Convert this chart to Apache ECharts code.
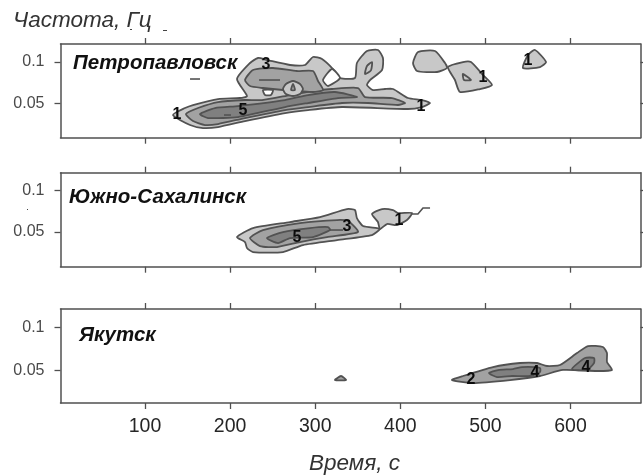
<!DOCTYPE html>
<html><head><meta charset="utf-8">
<style>html,body{margin:0;padding:0;background:#fff}#c{width:643px;height:475px;filter:blur(0.45px)}</style>
<script src="https://cdn.jsdelivr.net/npm/echarts@6/dist/echarts.min.js"></script>
</head><body><div id="c"></div>
<script>
const stations = ['Петропавловск', 'Южно-Сахалинск', 'Якутск'];
const xTicks = [100, 200, 300, 400, 500, 600];
const yTicks = [0.05, 0.1];
const xRange = [0.7, 682.2];
const yRanges = [[0.0092, 0.1216], [0.0084, 0.1212], [0.012, 0.1213]];

// contour polygons: [time, frequency]
const petroOuter = [[132.9,.0364],[147,.0448],[156.4,.0484],[185.8,.0556],[211.6,.0568],[219.8,.0592],[208.1,.0796],[223.4,.0988],[232.8,.1048],[243.3,.1024],[270.4,.0964],[288,.0964],[297.4,.106],[308,.1036],[320.9,.0916],[329.1,.0808],[346.7,.0808],[349,.0988],[360.8,.1132],[373.8,.1144],[379.6,.1048],[378.5,.0904],[364.4,.0784],[360.8,.0724],[367.9,.0664],[382,.0676],[391.4,.0676],[409,.0568],[425.5,.0544],[434.9,.0508],[425.5,.046],[409,.0436],[331.5,.046],[291.5,.0424],[264.5,.0388],[217.5,.0292],[185.8,.022],[168.1,.0208],[152.9,.0244]];
const petroNotch = [[319.7,.0916],[309.1,.0784],[315,.0712],[329.1,.0808]];
const petroBand2 = [[148.1,.0376],[162.3,.0448],[185.8,.052],[217.5,.0544],[237.5,.0544],[270.4,.0604],[297.4,.0652],[319.7,.0676],[350.3,.0688],[358.5,.058],[390.2,.0568],[405.5,.0508],[397.2,.0484],[362,.0508],[331.5,.0508],[291.5,.046],[264.5,.0424],[217.5,.0328],[185.8,.0256],[170.5,.0244],[156.4,.0292]];
const petroBlob2 = [[217.5,.0784],[226.9,.0904],[250.4,.0928],[278.6,.0892],[297.4,.0892],[303.3,.0772],[309.1,.0664],[297.4,.064],[262.1,.0664],[238.6,.0688],[223.4,.0712]];
const petroEllipse = [[262.1,.0676],[265.6,.0736],[273.9,.0772],[282.1,.0736],[285.6,.0676],[282.1,.0616],[273.9,.0592],[265.6,.0616]];
const petroDrop = [[273.9,.0736],[276.2,.0664],[271.6,.0664]];
const petroHole = [[238.6,.0664],[250.4,.0664],[248,.0604],[241,.0604]];
const petroBand3 = [[164.6,.0376],[182.2,.0448],[209.3,.0472],[264.5,.0544],[291.5,.0604],[323.2,.064],[349.1,.058],[326.8,.0568],[291.5,.0508],[264.5,.046],[209.3,.034],[174,.0328]];
const petroDiamond = [[358.5,.0856],[360.8,.0952],[366.7,.1],[365.5,.09]];
const petroIslandA = [[414.9,.0988],[420.8,.112],[440.7,.1132],[452.5,.0988],[454.8,.0928],[443.1,.088],[419.6,.0892]];
const petroIslandB = [[456,.094],[473.6,.1],[483,.1],[497.1,.0844],[507.7,.0724],[493.6,.0676],[470.1,.064],[464.2,.0784]];
const petroTriangle = [[473.6,.0856],[483,.0784],[474.8,.0784]];
const petroIslandC = [[544.1,.0928],[550,.1084],[558.2,.1144],[571.2,.1],[564.1,.094]];

const sakhOuter = [[208.1,.044],[226.9,.0548],[270.4,.062],[305.6,.068],[337.3,.0776],[346.7,.0764],[349,.0668],[356.1,.0572],[372.6,.0548],[376.1,.0536],[366.7,.0464],[325.6,.0404],[285.6,.0344],[262.1,.026],[226.9,.026],[219.8,.0308],[217.5,.038]];
const sakhBlob = [[366.7,.0716],[378.5,.0776],[391.4,.0764],[397.2,.0728],[413.7,.0728],[407.8,.0644],[396.1,.0584],[384.3,.0596],[376.1,.0536],[373.7,.062]];
const sakhLevel2 = [[223.4,.0428],[238.6,.0524],[282.1,.0608],[325.6,.0644],[338.5,.0632],[350.3,.05],[313.8,.044],[282.1,.038],[255.1,.032],[235.1,.0332]];
const sakhLevel3 = [[243.3,.0428],[262.1,.05],[293.9,.0548],[315,.056],[317.4,.0524],[297.4,.044],[270.4,.0428],[256.3,.0368]];

const yakOuter = [[460.7,.0387],[473.6,.0434],[508.9,.0538],[540.6,.0585],[560.6,.0585],[572.3,.055],[587.6,.0562],[607.6,.0701],[620.5,.0782],[638.1,.0771],[642.8,.0701],[642.8,.0597],[648.7,.0504],[631.1,.0492],[591.1,.0504],[564.1,.0434],[528.9,.0387],[485.4,.0352]];
const yakInnerA = [[504.2,.0468],[514.8,.0503],[532.4,.0515],[543,.0538],[564.1,.0527],[564.1,.048],[552.4,.0434],[531.2,.0434],[513.6,.0422]];
const yakInnerB = [[601.7,.0515],[617,.0643],[627.6,.0643],[627.6,.0585],[619.3,.0503]];
const yakSmall = [[323.2,.0387],[330.3,.0434],[336.2,.0387]];

// open contour lines
const petroLines = [[[152.9,.0796],[164.6,.0796]],[[234,.0784],[258.6,.0784]],[[192.8,.0364],[201,.0364]]];
const sakhLines = [[[413.7,.0716],[420.7,.0716],[426.6,.0788],[434.9,.0788]],[[317.4,.0524],[332.6,.0524]]];

// contour level labels: [time, frequency, text]
const petroLabels = [[137.6,.0364,'1'],[242.2,.0964,'3'],[215.1,.0412,'5'],[424.3,.046,'1'],[497.1,.0808,'1'],[550,.1012,'1']];
const sakhLabels = [[337.3,.056,'3'],[278.6,.0428,'5'],[398.4,.0632,'1']];
const yakLabels = [[483,.0387,'2'],[558.2,.0469,'4'],[618.1,.0527,'4']];

const L1 = '#c8c8c8', L2 = '#a2a2a2', L3 = '#808080', W = '#ffffff';
const panels = [
  { polys: [[petroOuter,L1],[petroNotch,W],[petroBand2,L2],[petroBlob2,L2],[petroEllipse,L1],[petroDrop,L2],[petroHole,W],[petroBand3,L3],[petroDiamond,L1],[petroIslandA,L1],[petroIslandB,L1],[petroTriangle,L1],[petroIslandC,L1]], lines: petroLines, labels: petroLabels },
  { polys: [[sakhOuter,L1],[sakhBlob,L1],[sakhLevel2,L2],[sakhLevel3,L3]], lines: sakhLines, labels: sakhLabels },
  { polys: [[yakOuter,L2],[yakInnerA,L3],[yakInnerB,L3],[yakSmall,L2]], lines: [], labels: yakLabels }
];

const frame = [{top:44,height:93.7},{top:172.7,height:94},{top:309,height:94}];
const axisColor = '#505050';
const lineCfg = {show:true,onZero:false,lineStyle:{color:axisColor,width:1.5}};
const tick = vals => ({show:true,inside:false,length:6,customValues:vals,lineStyle:{color:axisColor,width:1.3}});

const grid=[], xAxis=[], yAxis=[], series=[], titles=[];
panels.forEach((p,i)=>{
  grid.push({left:60.5,width:580,top:frame[i].top,height:frame[i].height,containLabel:false});
  const xb = {type:'value',gridIndex:i,position:'bottom',min:xRange[0],max:xRange[1],splitLine:{show:false},axisLine:lineCfg,axisTick:tick(xTicks),
    axisLabel: i===2 ? {show:true,customValues:xTicks,margin:14,fontSize:19.5,color:'#262626',fontFamily:'Liberation Sans'} : {show:false}};
  const xt = {type:'value',gridIndex:i,position:'top',min:xRange[0],max:xRange[1],splitLine:{show:false},axisLine:lineCfg,axisTick:tick(xTicks),axisLabel:{show:false}};
  const yl = {type:'value',gridIndex:i,position:'left',min:yRanges[i][0],max:yRanges[i][1],splitLine:{show:false},axisLine:lineCfg,axisTick:tick(yTicks),
    axisLabel:{show:true,customValues:yTicks,margin:16,fontSize:16,color:'#4a4a4a',fontFamily:'Liberation Sans',formatter:v=>String(v)}};
  const yr = {type:'value',gridIndex:i,position:'right',min:yRanges[i][0],max:yRanges[i][1],splitLine:{show:false},axisLine:lineCfg,axisTick:tick(yTicks),axisLabel:{show:false}};
  const xi = xAxis.length, yi = yAxis.length;
  xAxis.push(xb,xt); yAxis.push(yl,yr);
  series.push({type:'custom',xAxisIndex:xi,yAxisIndex:yi,coordinateSystem:'cartesian2d',silent:true,clip:true,
    data:p.polys.map((_,k)=>[k]),
    renderItem:(params,api)=>{
      const [pts,fill]=p.polys[params.dataIndex];
      return {type:'polygon',shape:{points:pts.map(q=>api.coord(q)),smooth:0.2},style:{fill:fill,stroke:'#525252',lineWidth:1.8}};
    }});
  if(p.lines.length) series.push({type:'custom',xAxisIndex:xi,yAxisIndex:yi,silent:true,
    data:p.lines.map((_,k)=>[k]),
    renderItem:(params,api)=>({type:'polyline',shape:{points:p.lines[params.dataIndex].map(q=>api.coord(q))},style:{fill:null,stroke:'#525252',lineWidth:1.6}})});
  series.push({type:'custom',xAxisIndex:xi,yAxisIndex:yi,silent:true,z:5,
    data:p.labels.map((_,k)=>[k]),
    renderItem:(params,api)=>{
      const l=p.labels[params.dataIndex], c=api.coord([l[0],l[1]]);
      return {type:'text',x:c[0],y:c[1],style:{text:l[2],textAlign:'center',textVerticalAlign:'middle',font:'bold 16px "Liberation Sans"',fill:'#0c0c0c'}};
    }});
});

const nameStyle = {fontFamily:'Liberation Sans',fontStyle:'italic',fontWeight:'bold',fontSize:20.5,color:'#111'};
const namePos = [[73,53],[69,187],[79,325]];
stations.forEach((s,i)=>titles.push({text:s,left:namePos[i][0],top:namePos[i][1],padding:0,textStyle:nameStyle}));
const axisTitle = {fontFamily:'Liberation Sans',fontStyle:'italic',fontWeight:'normal',fontSize:22.5,color:'#333'};
titles.push({text:'Частота, Гц',left:13,top:9,padding:0,textStyle:axisTitle});
titles.push({text:'Время, с',left:309,top:452,padding:0,textStyle:axisTitle});

const specks = [[130,29,2,1],[163,30,4,1],[27,209,1,1]];
echarts.init(document.getElementById('c'),null,{renderer:'canvas'}).setOption({
  animation:false,backgroundColor:'#fff',title:titles,grid,xAxis,yAxis,series,
  tooltip:{show:false},legend:{show:false},
  graphic:specks.map(s=>({type:'rect',shape:{x:s[0],y:s[1],width:s[2],height:s[3]},style:{fill:'#444'}}))
});
</script></body></html>
